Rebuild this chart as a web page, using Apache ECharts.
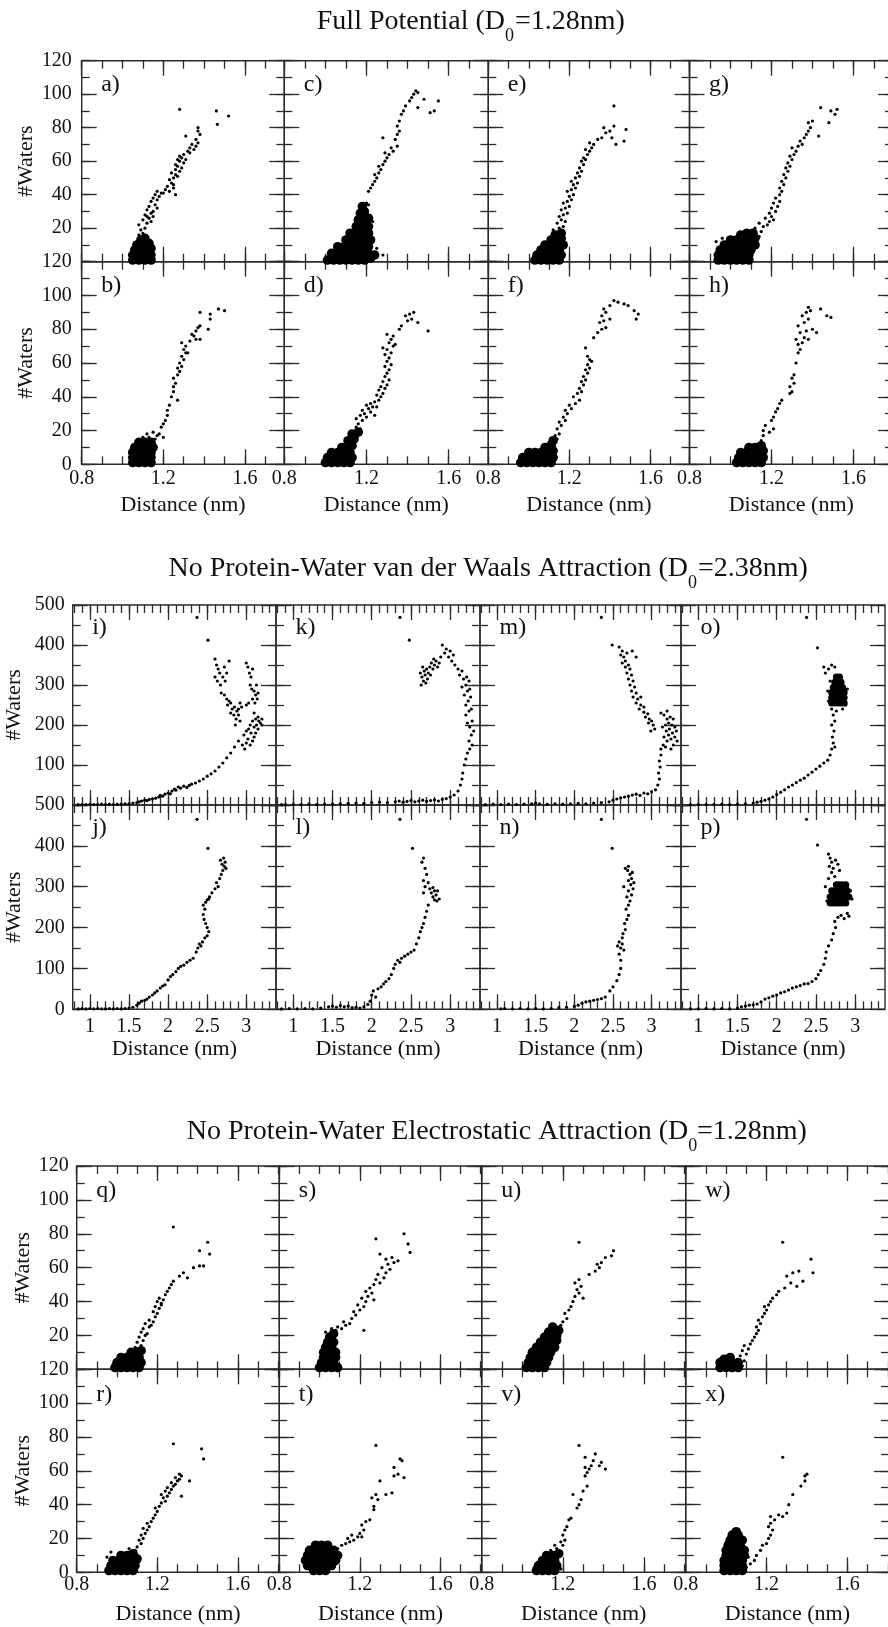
<!DOCTYPE html>
<html>
<head>
<meta charset="utf-8">
<script src="https://cdn.jsdelivr.net/npm/echarts@6.0.0/dist/echarts.min.js"></script>
<style>
html,body{margin:0;padding:0;background:#fff;}
#main{width:888px;height:1627px;}
</style>
</head>
<body>
<div id="main"></div>
<script>
// ---------- tick labels ----------
var distTicks1 = [0.8, 1.2, 1.6];
var distTicks2 = [1, 1.5, 2, 2.5, 3];
var waterTicks120 = [0, 20, 40, 60, 80, 100, 120];
var waterTicks120Top = [20, 40, 60, 80, 100, 120];
var waterTicks500 = [0, 100, 200, 300, 400, 500];
var waterTicks500Top = [100, 200, 300, 400, 500];

// ---------- Full potential ----------
var a_dense = [[1.05,1],[1.08,1],[1.11,1],[1.14,1],[1.05,4],[1.08,4],[1.11,4],[1.14,4],[1.06,7],[1.09,7],[1.12,7],[1.14,8],[1.07,10],[1.10,10],[1.13,11],[1.09,13],[1.11,14]];
var a_sparse = [[1.08,16],[1.10,17],[1.09,19],[1.11,20],[1.08,22],[1.12,23],[1.10,25],[1.13,26],[1.11,28],[1.14,29],[1.12,31],[1.15,30],[1.13,33],[1.16,34],[1.14,36],[1.17,37],[1.15,38],[1.18,39],[1.16,40],[1.19,41],[1.17,42],[1.20,41],[1.12,27],[1.15,27],[1.17,32],[1.14,24],[1.21,43],[1.23,42],[1.22,45],[1.24,47],[1.25,46],[1.23,49],[1.25,50],[1.26,52],[1.27,51],[1.24,53],[1.26,55],[1.28,54],[1.27,57],[1.29,56],[1.26,58],[1.28,60],[1.30,59],[1.27,61],[1.29,62],[1.30,64],[1.28,63],[1.31,61],[1.26,40],[1.25,44],[1.32,66],[1.33,68],[1.35,67],[1.34,70],[1.36,69],[1.37,71],[1.33,65],[1.36,73],[1.31,75],[1.37,78],[1.38,76],[1.37,80],[1.28,91],[1.46,90],[1.465,82],[1.52,87]];

var c_dense = [[1.01,1],[1.04,1],[1.07,1],[1.10,1],[1.13,1],[1.16,1],[1.19,1],[1.22,2],[1.03,5],[1.06,5],[1.09,5],[1.12,5],[1.15,5],[1.18,5],[1.21,5],[1.24,4],[1.06,9],[1.09,9],[1.12,9],[1.15,9],[1.18,9],[1.21,9],[1.10,13],[1.13,13],[1.16,13],[1.19,13],[1.22,13],[1.12,17],[1.15,17],[1.18,17],[1.21,17],[1.15,21],[1.18,21],[1.21,21],[1.16,25],[1.19,25],[1.21,26],[1.17,29],[1.19,30],[1.18,33]];
var c_sparse = [[1.20,35],[1.21,34],[1.28,4],[1.25,8],[1.23,24],[1.14,19],[1.11,16],[1.21,42],[1.22,44],[1.23,46],[1.24,48],[1.25,50],[1.24,52],[1.26,53],[1.27,55],[1.26,57],[1.28,58],[1.29,60],[1.30,62],[1.31,64],[1.29,65],[1.33,66],[1.32,68],[1.35,69],[1.28,74],[1.34,73],[1.35,76],[1.36,78],[1.35,81],[1.36,84],[1.37,88],[1.38,90],[1.39,93],[1.41,96],[1.42,98],[1.43,100],[1.44,102],[1.45,101],[1.45,92],[1.48,97],[1.51,89],[1.55,96],[1.53,90]];

var e_dense = [[1.03,1],[1.06,1],[1.09,1],[1.12,1],[1.15,1],[1.04,4],[1.07,4],[1.10,4],[1.13,4],[1.16,4],[1.06,7],[1.09,7],[1.12,7],[1.15,7],[1.08,10],[1.11,10],[1.14,10],[1.17,10],[1.11,13],[1.14,13],[1.16,14],[1.13,16],[1.16,17]];
var e_sparse = [[1.12,19],[1.15,20],[1.17,21],[1.14,23],[1.16,25],[1.18,24],[1.15,27],[1.17,28],[1.19,29],[1.16,31],[1.18,32],[1.20,33],[1.17,35],[1.19,36],[1.21,37],[1.20,39],[1.22,40],[1.19,42],[1.21,43],[1.23,44],[1.22,46],[1.24,47],[1.21,48],[1.23,50],[1.25,51],[1.24,53],[1.26,54],[1.25,56],[1.27,58],[1.26,60],[1.28,61],[1.27,62],[1.29,64],[1.30,66],[1.28,67],[1.31,68],[1.32,70],[1.30,71],[1.34,73],[1.36,74],[1.38,77],[1.37,80],[1.40,78],[1.42,81],[1.41,74],[1.43,70],[1.47,72],[1.48,79],[1.42,93]];

var g_dense = [[0.94,1],[0.97,1],[1.00,1],[1.03,1],[1.06,1],[1.09,1],[0.94,4],[0.97,4],[1.00,4],[1.03,4],[1.06,4],[1.09,4],[0.95,7],[0.98,7],[1.01,7],[1.04,7],[1.07,7],[1.10,7],[0.97,10],[1.00,10],[1.03,10],[1.06,10],[1.09,10],[1.12,10],[1.00,13],[1.03,13],[1.06,13],[1.09,13],[1.12,14],[1.05,16],[1.08,17],[1.11,17]];
var g_sparse = [[0.93,12],[0.96,14],[1.14,15],[1.15,18],[1.12,20],[1.16,21],[1.18,22],[1.14,23],[1.19,24],[1.17,26],[1.20,27],[1.21,25],[1.19,29],[1.22,30],[1.20,32],[1.23,33],[1.21,35],[1.24,36],[1.22,38],[1.24,40],[1.25,42],[1.24,44],[1.26,46],[1.25,48],[1.27,50],[1.26,52],[1.28,54],[1.27,56],[1.29,57],[1.28,59],[1.30,61],[1.29,63],[1.31,64],[1.32,66],[1.30,68],[1.33,69],[1.35,70],[1.34,72],[1.36,74],[1.37,76],[1.38,78],[1.39,80],[1.38,83],[1.40,84],[1.43,75],[1.48,83],[1.49,90],[1.51,88],[1.52,91],[1.44,92]];

var b_dense = [[1.05,1],[1.08,1],[1.11,1],[1.14,1],[1.05,4],[1.08,4],[1.11,4],[1.14,4],[1.05,7],[1.08,7],[1.11,7],[1.14,7],[1.06,10],[1.09,10],[1.12,10],[1.15,10],[1.08,13],[1.11,13],[1.14,13]];
var b_sparse = [[1.10,16],[1.13,16],[1.16,15],[1.12,18],[1.15,19],[1.18,18],[1.17,17],[1.20,16],[1.19,22],[1.20,24],[1.21,26],[1.22,29],[1.22,32],[1.23,35],[1.27,38],[1.24,40],[1.25,43],[1.25,46],[1.26,48],[1.25,51],[1.27,53],[1.28,55],[1.27,57],[1.29,58],[1.28,60],[1.30,62],[1.29,64],[1.31,66],[1.30,68],[1.32,66],[1.29,72],[1.31,70],[1.33,73],[1.34,77],[1.35,76],[1.36,79],[1.37,81],[1.38,82],[1.36,74],[1.38,74],[1.42,80],[1.43,86],[1.43,89],[1.38,90],[1.47,92],[1.50,91]];

var d_dense = [[1.00,1],[1.03,1],[1.06,1],[1.09,1],[1.12,1],[1.01,4],[1.04,4],[1.07,4],[1.10,4],[1.13,4],[1.03,7],[1.06,7],[1.09,7],[1.12,7],[1.08,10],[1.11,10],[1.13,11],[1.11,14],[1.14,15],[1.13,18],[1.16,19]];
var d_sparse = [[1.15,22],[1.17,21],[1.16,24],[1.18,26],[1.15,27],[1.20,28],[1.17,29],[1.19,30],[1.22,31],[1.24,29],[1.18,32],[1.21,33],[1.23,34],[1.20,35],[1.25,34],[1.22,36],[1.24,37],[1.26,38],[1.27,40],[1.25,41],[1.28,42],[1.26,44],[1.29,45],[1.27,46],[1.30,47],[1.28,49],[1.31,50],[1.29,52],[1.30,54],[1.31,56],[1.29,58],[1.32,59],[1.30,61],[1.31,63],[1.29,65],[1.32,66],[1.30,68],[1.28,69],[1.33,70],[1.31,72],[1.34,71],[1.32,74],[1.33,76],[1.30,77],[1.36,80],[1.37,82],[1.40,85],[1.42,86],[1.41,89],[1.43,90],[1.39,88],[1.45,84],[1.50,79]];

var f_dense = [[0.96,1],[0.99,1],[1.02,1],[1.05,1],[1.08,1],[1.11,1],[0.97,4],[1.00,4],[1.03,4],[1.06,4],[1.09,4],[1.12,4],[1.00,7],[1.03,7],[1.06,7],[1.09,7],[1.12,8],[1.08,10],[1.11,11],[1.12,14]];
var f_sparse = [[1.10,13],[1.14,15],[1.13,17],[1.15,18],[1.14,21],[1.16,23],[1.15,25],[1.18,26],[1.17,28],[1.19,30],[1.18,32],[1.21,33],[1.20,35],[1.23,36],[1.25,38],[1.22,40],[1.24,42],[1.26,43],[1.25,45],[1.27,47],[1.26,49],[1.28,50],[1.27,52],[1.29,54],[1.28,56],[1.30,57],[1.29,59],[1.31,61],[1.30,62],[1.29,64],[1.28,69],[1.32,75],[1.34,78],[1.36,80],[1.38,81],[1.35,84],[1.37,85],[1.40,86],[1.36,88],[1.38,90],[1.37,92],[1.40,94],[1.42,97],[1.44,96],[1.47,95],[1.49,94],[1.52,91],[1.54,89],[1.53,86]];

var h_dense = [[1.03,1],[1.06,1],[1.09,1],[1.12,1],[1.15,1],[1.04,4],[1.07,4],[1.10,4],[1.13,4],[1.16,4],[1.05,7],[1.08,7],[1.11,7],[1.14,7],[1.16,8],[1.09,10],[1.12,10],[1.15,11]];
var h_sparse = [[1.15,14],[1.16,17],[1.16,20],[1.19,19],[1.21,21],[1.17,23],[1.20,26],[1.21,28],[1.22,31],[1.23,33],[1.24,36],[1.25,38],[1.29,42],[1.30,43],[1.29,46],[1.31,48],[1.30,51],[1.31,53],[1.32,60],[1.33,66],[1.34,68],[1.33,71],[1.35,72],[1.32,74],[1.36,75],[1.38,74],[1.34,78],[1.37,79],[1.40,80],[1.42,78],[1.33,82],[1.36,84],[1.38,86],[1.35,88],[1.37,90],[1.39,91],[1.38,93],[1.44,92],[1.47,88],[1.49,87]];

// ---------- No protein-water vdW attraction ----------
var i_sparse = [[0.85,1],[0.9,1],[0.95,1],[1.0,1],[1.05,1],[1.1,1],[1.15,2],[1.2,1],[1.25,2],[1.3,1],[1.35,2],[1.4,2],[1.45,3],[1.5,3],[1.55,5],[1.6,6],[1.63,8],[1.66,10],[1.7,12],[1.73,11],[1.76,14],[1.8,15],[1.84,17],[1.88,20],[1.9,24],[1.93,22],[1.96,27],[2.0,30],[2.03,28],[2.05,35],[2.08,40],[2.1,37],[2.13,45],[2.16,42],[2.2,47],[2.24,44],[2.27,49],[2.3,52],[2.35,55],[2.4,60],[2.45,65],[2.5,72],[2.55,78],[2.6,85],[2.65,95],[2.7,105],[2.75,118],[2.8,130],[2.85,145],[2.9,160],
  [2.95,150],[2.98,140],[3.0,155],[3.02,165],[3.05,150],[3.08,160],[3.1,170],[3.12,180],[2.97,175],[3.0,185],[3.03,190],[3.06,180],[3.1,195],[3.13,200],[3.15,190],[3.18,205],[3.2,200],[3.16,210],[3.12,215],[3.05,200],[3.08,210],[3.15,220],[3.2,215],[3.1,230],
  [2.6,365],[2.62,350],[2.64,340],[2.66,330],[2.6,320],[2.63,310],[2.67,300],[2.7,320],[2.72,345],[2.75,330],[2.73,310],[2.78,360],[2.68,280],[2.72,275],[2.75,265],[2.78,260],[2.8,255],[2.76,250],[2.82,240],[2.85,245],[2.88,235],[2.84,225],[2.87,215],[2.9,225],[2.92,210],[2.86,200],[2.9,240],[2.8,230],[2.92,255],[2.94,245],
  [3.0,355],[3.02,345],[3.04,330],[3.06,320],[3.08,340],[3.05,300],[3.07,290],[3.1,285],[3.12,275],[3.08,265],[3.11,255],[3.14,265],[3.15,280],[3.13,300],[3.0,250],[3.03,255],[2.37,469],[2.51,412]];

var k_sparse = [[0.85,1],[0.9,1],[1.0,1],[1.1,1],[1.2,2],[1.3,1],[1.4,2],[1.5,2],[1.6,3],[1.7,4],[1.8,5],[1.9,4],[2.0,6],[2.1,7],[2.2,6],[2.3,8],[2.35,10],[2.4,7],[2.45,9],[2.5,11],[2.55,8],[2.6,10],[2.65,12],[2.7,9],[2.75,11],[2.8,13],[2.85,10],[2.9,14],[2.95,16],[3.0,20],[3.05,25],[3.1,35],[3.13,50],[3.15,65],[3.16,80],[3.18,100],[3.2,115],[3.22,130],[3.25,140],[3.28,150],[3.24,160],[3.27,175],[3.3,185],[3.25,195],[3.22,205],[3.28,210],[3.2,225],[3.24,235],[3.27,240],[3.2,250],[3.23,260],[3.26,270],[3.18,275],[3.22,285],[3.25,290],[3.15,295],[3.2,300],[3.24,310],[3.17,315],[3.21,320],[3.12,325],[3.15,335],[3.1,340],[3.06,350],[3.02,360],[2.98,370],[3.04,375],[3.0,385],[2.95,390],[2.9,400],[2.93,380],[2.88,370],
  [2.62,330],[2.64,320],[2.66,310],[2.68,325],[2.7,340],[2.72,330],[2.74,345],[2.76,355],[2.78,340],[2.8,350],[2.82,360],[2.84,345],[2.63,300],[2.67,335],[2.71,315],[2.75,325],[2.79,365],[2.86,355],[2.65,345],[2.69,305],[2.36,469],[2.48,412]];

var m_sparse = [[0.85,1],[0.95,2],[1.05,1],[1.15,2],[1.25,1],[1.35,2],[1.45,3],[1.5,5],[1.55,3],[1.65,2],[1.75,3],[1.85,2],[1.95,3],[2.05,4],[2.15,3],[2.25,5],[2.35,6],[2.45,8],[2.5,12],[2.55,15],[2.6,18],[2.65,20],[2.7,22],[2.75,25],[2.8,27],[2.85,24],[2.9,30],[2.95,28],[3.0,33],[3.05,38],[3.08,50],[3.1,65],[3.09,80],[3.11,95],[3.1,110],[3.12,125],
  [3.12,140],[3.15,150],[3.18,145],[3.2,160],[3.16,170],[3.22,175],[3.25,165],[3.19,185],[3.23,190],[3.27,180],[3.3,170],[3.14,195],[3.18,200],[3.22,205],[3.26,200],[3.3,195],[3.2,215],[3.24,220],[3.28,215],[3.16,225],[3.12,230],[3.2,235],[3.32,185],[3.33,160],[3.28,150],[3.25,140],
  [2.58,395],[2.62,385],[2.6,375],[2.64,370],[2.68,380],[2.66,360],[2.62,355],[2.7,350],[2.66,345],[2.72,340],[2.68,330],[2.74,325],[2.7,315],[2.76,310],[2.72,300],[2.78,295],[2.74,285],[2.8,280],[2.76,270],[2.82,265],[2.86,270],[2.8,255],[2.86,250],[2.9,245],[2.84,240],[2.9,232],[2.95,228],[2.92,220],[2.97,215],[3.0,210],[2.96,205],[3.02,200],[3.04,190],[2.99,185],[2.8,370],[2.75,385],[2.35,469],[2.49,400]];

var o_dense = [[2.70,255],[2.74,255],[2.78,255],[2.82,255],[2.86,255],[2.70,268],[2.74,268],[2.78,268],[2.82,268],[2.86,268],[2.70,281],[2.74,281],[2.78,281],[2.82,281],[2.86,281],[2.72,294],[2.76,294],[2.80,294],[2.84,294],[2.74,307],[2.78,307],[2.82,307],[2.76,320],[2.80,320]];
var o_sparse = [[0.9,1],[1.0,1],[1.1,1],[1.2,1],[1.3,2],[1.4,1],[1.5,2],[1.6,3],[1.7,5],[1.75,7],[1.8,9],[1.85,12],[1.9,15],[1.95,20],[2.0,26],[2.05,32],[2.1,38],[2.15,45],[2.2,50],[2.25,56],[2.3,62],[2.35,67],[2.4,75],[2.45,82],[2.5,90],[2.55,97],[2.6,105],[2.65,112],
  [2.68,125],[2.7,140],[2.72,155],[2.74,145],[2.71,170],[2.73,185],[2.7,200],[2.74,210],[2.72,225],[2.76,235],[2.7,240],
  [2.62,330],[2.66,340],[2.7,350],[2.74,345],[2.68,310],[2.65,285],[2.88,250],[2.9,290],[2.84,240],[2.66,260],[2.6,345],[2.38,469],[2.52,393]];

var j_sparse = [[0.85,1],[0.9,2],[0.95,1],[1.0,2],[1.05,1],[1.1,2],[1.15,1],[1.2,1],[1.25,2],[1.3,1],[1.35,2],[1.4,1],[1.45,2],[1.5,3],[1.55,5],[1.6,10],[1.63,15],[1.66,20],[1.7,22],[1.73,25],[1.76,30],[1.8,35],[1.83,40],[1.86,45],[1.9,52],[1.93,57],[1.96,60],[2.0,72],[2.03,80],[2.06,85],[2.1,92],[2.13,100],[2.16,105],[2.2,108],[2.24,115],[2.28,120],[2.32,125],[2.36,140],[2.38,150],[2.4,160],[2.42,155],[2.44,165],[2.47,175],[2.5,180],[2.52,190],[2.5,200],[2.48,210],[2.46,220],[2.45,232],[2.47,245],[2.45,255],[2.48,262],[2.5,268],[2.53,275],[2.52,270],[2.56,285],[2.6,295],[2.64,300],[2.62,310],[2.66,320],[2.68,330],[2.7,340],[2.72,350],[2.69,355],[2.73,360],[2.71,370],[2.67,365],[2.74,345],[2.51,394],[2.37,465]];

var l_sparse = [[0.85,1],[0.95,2],[1.05,1],[1.15,2],[1.25,1],[1.35,3],[1.45,6],[1.5,8],[1.55,5],[1.6,9],[1.65,6],[1.7,8],[1.75,4],[1.8,5],[1.85,3],[1.9,6],[1.95,12],[1.98,20],[2.0,35],[2.02,45],[2.05,30],[2.08,50],[2.12,55],[2.15,62],[2.18,68],[2.22,75],[2.25,85],[2.28,100],[2.3,110],[2.33,120],[2.36,115],[2.38,125],[2.42,130],[2.46,135],[2.5,140],[2.54,145],[2.57,160],[2.6,175],[2.62,190],[2.64,200],[2.66,210],[2.68,225],[2.7,240],[2.72,255],[2.66,285],[2.68,300],[2.66,315],[2.7,330],[2.68,345],[2.64,360],[2.66,370],[2.72,310],[2.74,295],[2.76,285],[2.78,275],[2.8,268],[2.82,280],[2.84,290],[2.86,270],[2.8,290],[2.83,265],[2.78,298],[2.52,394],[2.36,465]];

var n_sparse = [[1.05,1],[1.1,2],[1.2,1],[1.3,2],[1.4,1],[1.5,2],[1.6,1],[1.7,2],[1.8,4],[1.9,5],[2.0,7],[2.05,10],[2.1,15],[2.15,18],[2.2,20],[2.25,22],[2.3,24],[2.35,26],[2.4,30],[2.46,45],[2.5,55],[2.55,70],[2.58,85],[2.6,100],[2.6,120],[2.58,135],[2.6,150],[2.62,160],[2.58,165],[2.62,175],[2.64,145],[2.56,155],[2.63,185],[2.66,195],[2.65,210],[2.68,220],[2.7,230],[2.67,245],[2.7,255],[2.72,265],[2.68,275],[2.74,280],[2.7,290],[2.76,295],[2.73,305],[2.77,310],[2.74,320],[2.7,315],[2.72,330],[2.69,340],[2.66,345],[2.7,350],[2.75,335],[2.64,300],[2.35,465],[2.49,394]];

var p_dense = [[2.68,260],[2.72,260],[2.76,260],[2.80,260],[2.84,260],[2.88,260],[2.68,275],[2.72,275],[2.76,275],[2.80,275],[2.84,275],[2.88,275],[2.92,275],[2.70,290],[2.74,290],[2.78,290],[2.82,290],[2.86,290],[2.90,290],[2.76,305],[2.80,305],[2.84,305],[2.88,305]];
var p_sparse = [[0.9,1],[1.0,1],[1.1,2],[1.2,1],[1.3,2],[1.4,1],[1.5,3],[1.55,6],[1.6,8],[1.65,10],[1.7,11],[1.75,13],[1.8,18],[1.85,25],[1.9,28],[1.95,32],[2.0,35],[2.05,40],[2.1,43],[2.15,47],[2.2,52],[2.25,55],[2.3,58],[2.35,62],[2.4,63],[2.45,68],[2.5,75],[2.53,85],[2.56,95],[2.6,110],[2.62,125],[2.63,140],[2.66,155],[2.7,170],[2.72,185],[2.75,200],[2.74,215],[2.78,225],[2.82,230],[2.86,222],[2.9,235],[2.92,228],
  [2.66,380],[2.68,370],[2.7,360],[2.67,350],[2.72,345],[2.7,335],[2.75,365],[2.78,355],[2.8,340],[2.74,325],[2.66,320],[2.62,300],[2.9,300],[2.94,290],[2.96,270],[2.64,265],[2.38,465],[2.52,402]];

// ---------- No protein-water electrostatic attraction ----------
var q_dense = [[0.99,1],[1.02,1],[1.05,1],[1.08,1],[1.11,1],[1.00,4],[1.03,4],[1.06,4],[1.09,4],[1.12,4],[1.02,7],[1.05,7],[1.08,7],[1.11,7],[1.07,10],[1.10,10],[1.12,11]];
var q_sparse = [[1.09,13],[1.12,14],[1.10,16],[1.13,17],[1.11,19],[1.14,20],[1.12,22],[1.15,21],[1.13,24],[1.16,25],[1.14,27],[1.17,26],[1.18,28],[1.16,29],[1.19,31],[1.2,33],[1.18,34],[1.21,36],[1.19,37],[1.22,38],[1.2,40],[1.23,41],[1.21,42],[1.24,44],[1.22,39],[1.25,46],[1.26,48],[1.27,50],[1.28,52],[1.31,55],[1.33,57],[1.35,54],[1.38,60],[1.41,61],[1.43,61],[1.41,70],[1.45,75],[1.46,68],[1.28,84]];

var s_dense = [[1.00,1],[1.03,1],[1.06,1],[1.09,1],[1.01,4],[1.04,4],[1.07,4],[1.02,7],[1.05,7],[1.08,7],[1.02,10],[1.05,10],[1.08,10],[1.03,13],[1.06,13],[1.04,16],[1.07,16],[1.05,19],[1.07,21]];
var s_sparse = [[1.03,22],[1.06,24],[1.08,23],[1.09,25],[1.11,24],[1.13,26],[1.15,27],[1.12,28],[1.16,30],[1.18,32],[1.17,34],[1.2,35],[1.22,37],[1.19,38],[1.23,40],[1.21,42],[1.24,43],[1.26,45],[1.23,46],[1.25,48],[1.27,50],[1.3,51],[1.28,53],[1.32,54],[1.29,56],[1.33,57],[1.35,59],[1.31,60],[1.34,62],[1.37,63],[1.33,65],[1.36,66],[1.39,64],[1.3,68],[1.28,77],[1.42,80],[1.44,74],[1.45,69],[1.22,23],[1.27,41]];

var u_dense = [[1.02,1],[1.05,1],[1.08,1],[1.11,1],[1.03,4],[1.06,4],[1.09,4],[1.12,4],[1.04,7],[1.07,7],[1.10,7],[1.13,7],[1.05,10],[1.08,10],[1.11,10],[1.14,10],[1.07,13],[1.10,13],[1.13,13],[1.16,13],[1.09,16],[1.12,16],[1.15,16],[1.17,17],[1.11,19],[1.14,19],[1.17,20],[1.13,22],[1.16,22],[1.18,23],[1.15,25]];
var u_sparse = [[1.19,26],[1.2,28],[1.22,30],[1.21,33],[1.23,35],[1.24,37],[1.25,40],[1.26,43],[1.28,45],[1.27,47],[1.29,49],[1.26,51],[1.3,42],[1.28,53],[1.33,56],[1.36,58],[1.38,60],[1.37,62],[1.39,63],[1.41,66],[1.44,67],[1.45,70],[1.28,75]];

var w_dense = [[0.97,1],[1.00,1],[1.03,1],[1.06,1],[0.97,4],[1.00,4],[1.03,4],[1.06,4],[0.99,6],[1.02,7]];
var w_sparse = [[1.08,2],[1.09,5],[1.07,8],[1.1,9],[1.08,11],[1.11,12],[1.09,14],[1.12,15],[1.13,17],[1.14,19],[1.15,21],[1.16,23],[1.15,25],[1.17,27],[1.16,29],[1.18,31],[1.19,33],[1.2,35],[1.19,37],[1.21,38],[1.22,40],[1.23,42],[1.25,44],[1.26,46],[1.29,48],[1.32,51],[1.35,49],[1.38,52],[1.3,55],[1.33,57],[1.36,58],[1.42,65],[1.43,57],[1.28,75]];

var r_dense = [[0.96,1],[0.99,1],[1.02,1],[1.05,1],[1.08,1],[0.97,4],[1.00,4],[1.03,4],[1.06,4],[1.09,4],[0.98,7],[1.01,7],[1.04,7],[1.07,7],[1.10,8],[1.02,10],[1.05,10],[1.08,11]];
var r_sparse = [[0.95,9],[0.97,12],[1.06,14],[1.09,13],[1.1,15],[1.12,17],[1.11,19],[1.13,20],[1.12,22],[1.14,23],[1.15,25],[1.13,26],[1.16,27],[1.15,29],[1.17,30],[1.18,32],[1.19,34],[1.2,36],[1.19,38],[1.21,39],[1.22,41],[1.24,42],[1.23,44],[1.25,45],[1.22,46],[1.26,47],[1.24,48],[1.27,49],[1.25,50],[1.28,51],[1.29,52],[1.27,53],[1.3,54],[1.31,55],[1.29,56],[1.32,57],[1.31,58],[1.36,54],[1.32,45],[1.28,76],[1.42,73],[1.43,67]];

var t_dense = [[0.94,4],[0.97,4],[1.00,4],[1.03,4],[1.06,4],[0.93,7],[0.96,7],[0.99,7],[1.02,7],[1.05,7],[1.08,7],[0.94,10],[0.97,10],[1.00,10],[1.03,10],[1.06,10],[1.09,10],[0.95,13],[0.98,13],[1.01,13],[1.04,13],[1.07,13],[0.98,16],[1.01,16],[1.04,16],[0.97,1],[1.00,1],[1.03,1]];
var t_sparse = [[1.09,14],[1.11,16],[1.13,17],[1.15,18],[1.14,20],[1.17,19],[1.19,21],[1.21,21],[1.16,22],[1.2,23],[1.22,25],[1.21,28],[1.23,30],[1.25,31],[1.27,37],[1.27,39],[1.26,44],[1.28,46],[1.29,43],[1.3,54],[1.33,46],[1.36,47],[1.37,57],[1.39,58],[1.37,62],[1.4,67],[1.41,66],[1.42,56],[1.28,75]];

var v_dense = [[1.07,1],[1.10,1],[1.13,1],[1.16,1],[1.08,4],[1.11,4],[1.14,4],[1.17,4],[1.10,7],[1.13,7],[1.16,7],[1.12,10],[1.15,10],[1.18,11]];
var v_sparse = [[1.06,3],[1.19,2],[1.14,13],[1.17,14],[1.2,16],[1.16,16],[1.19,18],[1.21,19],[1.2,22],[1.21,25],[1.22,27],[1.23,31],[1.24,32],[1.27,38],[1.28,40],[1.29,43],[1.25,46],[1.3,48],[1.32,51],[1.31,57],[1.32,59],[1.33,61],[1.31,62],[1.34,63],[1.31,68],[1.35,66],[1.36,70],[1.38,63],[1.39,65],[1.41,61],[1.28,75]];

var x_dense = [[0.99,1],[1.02,1],[1.05,1],[1.08,1],[0.99,4],[1.02,4],[1.05,4],[1.08,4],[0.99,7],[1.02,7],[1.05,7],[1.08,7],[1.00,10],[1.03,10],[1.06,10],[1.09,10],[1.00,13],[1.03,13],[1.06,13],[1.09,13],[1.01,16],[1.04,16],[1.07,16],[1.02,19],[1.05,19],[1.08,19],[1.03,22],[1.06,22],[1.05,24]];
var x_sparse = [[1.1,3],[1.12,5],[1.14,7],[1.11,9],[1.15,10],[1.17,13],[1.18,16],[1.2,17],[1.21,20],[1.22,22],[1.23,25],[1.21,27],[1.22,29],[1.24,31],[1.22,33],[1.26,34],[1.28,33],[1.3,35],[1.31,40],[1.33,46],[1.37,51],[1.39,54],[1.39,57],[1.4,58],[1.28,68]];

// ---------- layout ----------
var INK = '#111';
var LINE = '#2a2a2a';
var FONT = 'Liberation Serif';

var blocks = [
  { title: ['Full Potential (D', '0', '=1.28nm)'], tY: 21.5, subY: 36, dEnd: 505, eqX: 515,
    cols: [81.7, 284.3, 488.3, 689.5, 893], rows: [60.7, 261.7, 464.3],
    xr: [0.8, 1.793], yr: [0, 120], xMajor: distTicks1, xStep: 0.1, yMajor: waterTicks120, yStep: 10,
    xLabels: distTicks1, yTop: waterTicks120Top, yBot: waterTicks120,
    xMargin: 4, xNameGap: 30, yMargin: 10, yNameGap: 44, ly: 24, dense: 9.5 },
  { title: ['No Protein-Water van der Waals Attraction (D', '0', '=2.38nm)'], tY: 568.3, subY: 583, dEnd: 688, eqX: 698,
    cols: [72.7, 276, 480, 681, 885], rows: [605, 805, 1009.3],
    xr: [0.78, 3.38], yr: [0, 500], xMajor: distTicks2, xStep: 0.1, yMajor: waterTicks500, yStep: 50,
    xLabels: distTicks2, yTop: waterTicks500Top, yBot: waterTicks500,
    xMargin: 7, xNameGap: 29, yMargin: 8, yNameGap: 47, ly: 23, dense: 7 },
  { title: ['No Protein-Water Electrostatic Attraction (D', '0', '=1.28nm)'], tY: 1132, subY: 1146.7, dEnd: 688.3, eqX: 697,
    cols: [76.7, 279.3, 481.7, 685.7, 889], rows: [1166, 1369.3, 1572.3],
    xr: [0.8, 1.806], yr: [0, 120], xMajor: distTicks1, xStep: 0.1, yMajor: waterTicks120, yStep: 10,
    xLabels: distTicks1, yTop: waterTicks120Top, yBot: waterTicks120,
    xMargin: 2, xNameGap: 31, yMargin: 8, yNameGap: 42, ly: 25, dense: 9.5 }
];

// block, col, row, letter, sparse, dense
var panels = [
  [0,0,0,'a)',a_sparse,a_dense],[0,1,0,'c)',c_sparse,c_dense],[0,2,0,'e)',e_sparse,e_dense],[0,3,0,'g)',g_sparse,g_dense],
  [0,0,1,'b)',b_sparse,b_dense],[0,1,1,'d)',d_sparse,d_dense],[0,2,1,'f)',f_sparse,f_dense],[0,3,1,'h)',h_sparse,h_dense],
  [1,0,0,'i)',i_sparse,[]],[1,1,0,'k)',k_sparse,[]],[1,2,0,'m)',m_sparse,[]],[1,3,0,'o)',o_sparse,o_dense],
  [1,0,1,'j)',j_sparse,[]],[1,1,1,'l)',l_sparse,[]],[1,2,1,'n)',n_sparse,[]],[1,3,1,'p)',p_sparse,p_dense],
  [2,0,0,'q)',q_sparse,q_dense],[2,1,0,'s)',s_sparse,s_dense],[2,2,0,'u)',u_sparse,u_dense],[2,3,0,'w)',w_sparse,w_dense],
  [2,0,1,'r)',r_sparse,r_dense],[2,1,1,'t)',t_sparse,t_dense],[2,2,1,'v)',v_sparse,v_dense],[2,3,1,'x)',x_sparse,x_dense]
];

function steps(lo, hi, step) {
  var out = [];
  var k0 = Math.ceil(lo / step - 1e-6), k1 = Math.floor(hi / step + 1e-6);
  for (var k = k0; k <= k1; k++) out.push(+(k * step).toFixed(3));
  return out;
}
var fmt = function (v) { return String(Math.round(v * 100) / 100); };

var option = {
  animation: false,
  backgroundColor: '#fff',
  textStyle: { fontFamily: FONT },
  grid: [], xAxis: [], yAxis: [], series: [], graphic: []
};

function tickAxis(dim, gi, b, pos, values, len, labels, name) {
  var isX = dim === 'x';
  var ax = {
    type: 'value', gridIndex: gi, position: pos,
    min: isX ? b.xr[0] : b.yr[0], max: isX ? b.xr[1] : b.yr[1],
    axisLine: { show: false, onZero: false },
    splitLine: { show: false },
    minorTick: { show: false },
    axisTick: { show: true, inside: true, length: len, customValues: values, lineStyle: { color: LINE, width: 1.3 } },
    axisLabel: { show: false },
    axisPointer: { show: false },
    silent: true,
    nameMoveOverlap: false
  };
  if (labels) {
    ax.axisLabel = { show: true, customValues: labels, margin: isX ? b.xMargin : b.yMargin,
      color: INK, fontFamily: FONT, fontSize: 20, formatter: fmt };
  }
  if (name) {
    ax.name = name;
    ax.nameLocation = 'middle';
    ax.nameGap = isX ? b.xNameGap : b.yNameGap;
    ax.nameTextStyle = { color: INK, fontFamily: FONT, fontSize: 22 };
  }
  return ax;
}

function text(x, y, s, size, align) {
  option.graphic.push({
    type: 'text', x: x, y: y, silent: true, z: 100,
    style: { text: s, font: size + 'px "' + FONT + '"', fill: INK,
      align: align, verticalAlign: 'middle', textAlign: align, textVerticalAlign: 'middle' }
  });
}

blocks.forEach(function (b) {
  text(b.dEnd, b.tY, b.title[0], 28, 'right');
  text(b.dEnd, b.subY, b.title[1], 18, 'left');
  text(b.eqX, b.tY, b.title[2], 28, 'left');
});

var dot = { color: '#000', opacity: 1, borderWidth: 0 };

panels.forEach(function (p) {
  var b = blocks[p[0]], col = p[1], row = p[2];
  var L = b.cols[col], R = b.cols[col + 1], T = b.rows[row], B = b.rows[row + 1];
  var gi = option.grid.length;
  option.grid.push({ left: L, top: T, width: R - L, height: B - T, show: true,
    borderColor: LINE, borderWidth: 1.4, backgroundColor: 'rgba(0,0,0,0)',
    containLabel: false, outerBoundsMode: 'none' });
  var xi = option.xAxis.length, yi = option.yAxis.length;
  var bottomRow = row === 1, firstCol = col === 0;
  var xMinor = steps(b.xr[0], b.xr[1], b.xStep), yMinor = steps(b.yr[0], b.yr[1], b.yStep);
  option.xAxis.push(
    tickAxis('x', gi, b, 'bottom', b.xMajor, 15, bottomRow ? b.xLabels : null, bottomRow ? 'Distance (nm)' : null),
    tickAxis('x', gi, b, 'bottom', xMinor, 8),
    tickAxis('x', gi, b, 'top', b.xMajor, 15),
    tickAxis('x', gi, b, 'top', xMinor, 8)
  );
  option.yAxis.push(
    tickAxis('y', gi, b, 'left', b.yMajor, 15, firstCol ? (row === 0 ? b.yTop : b.yBot) : null, firstCol ? '#Waters' : null),
    tickAxis('y', gi, b, 'left', yMinor, 8),
    tickAxis('y', gi, b, 'right', b.yMajor, 15),
    tickAxis('y', gi, b, 'right', yMinor, 8)
  );
  option.series.push({ type: 'scatter', xAxisIndex: xi, yAxisIndex: yi, data: p[4],
    symbolSize: 3.2, itemStyle: dot, silent: true });
  if (p[5].length) {
    option.series.push({ type: 'scatter', xAxisIndex: xi, yAxisIndex: yi, data: p[5],
      symbolSize: b.dense, itemStyle: dot, silent: true });
  }
  text(L + 19.5, T + b.ly, p[3], 24, 'left');
});

var myChart = echarts.init(document.getElementById('main'), null, { renderer: 'canvas' });
myChart.setOption(option);
</script>
</body>
</html>
